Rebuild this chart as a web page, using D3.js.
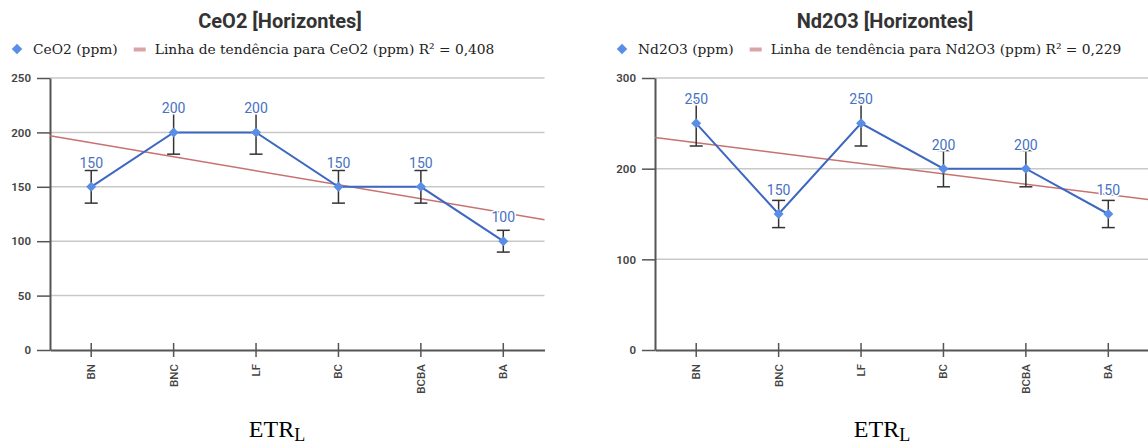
<!DOCTYPE html>
<html>
<head>
<meta charset="utf-8">
<script src="https://cdn.jsdelivr.net/npm/d3@7"></script>
<style>
  body { margin: 0; background: #fff; }
</style>
</head>
<body>
<div id="drawing"></div>
<script>
// categories (horizons)
var categories = ["BN", "BNC", "LF", "BC", "BCBA", "BA"];

// CeO2 panel
var ceo2Values = [150, 200, 200, 150, 150, 100];
var ceo2Errors = [15, 20, 20, 15, 15, 10];
var ceo2Ticks = [0, 50, 100, 150, 200, 250];

// Nd2O3 panel
var nd2o3Values = [250, 150, 250, 200, 200, 150];
var nd2o3Errors = [25, 15, 25, 20, 20, 15];
var nd2o3Ticks = [0, 100, 200, 300];

var width = 1148;
var height = 445;

var svg = d3.select("#drawing").append("svg")
  .attr("width", width)
  .attr("height", height)
  .style("background", "#fff");

// square diamond marker
var diamond = {
  draw: function(ctx, size) {
    var r = Math.sqrt(size) / 2;
    ctx.moveTo(0, -r); ctx.lineTo(r, 0); ctx.lineTo(0, r); ctx.lineTo(-r, 0); ctx.closePath();
  }
};

function panel(cfg) {
  var off = cfg.offset;
  var g = svg.append("g");

  var x = d3.scaleBand().domain(categories).range([off + 50, off + 544.5]).padding(0);
  var cx = function(c) { return x(c) + x.bandwidth() / 2; };
  var y = d3.scaleLinear().domain([0, cfg.yMax]).range([350, 78]);
  var xi = d3.scaleLinear().domain([0.5, categories.length + 0.5]).range(x.range());

  // title
  g.append("text")
    .attr("x", off + 280).attr("y", 28)
    .attr("text-anchor", "middle")
    .style("font-family", "Roboto").style("font-weight", "bold").style("font-size", "20px")
    .style("fill", "#333")
    .text(cfg.title);

  // legend
  var leg = g.append("g");
  leg.append("path")
    .attr("d", d3.symbol().type(diamond).size(110)())
    .attr("transform", `translate(${off + 17}, 49)`)
    .style("fill", "#5a8de6");
  var t1 = leg.append("text")
    .attr("x", off + 33).attr("y", 54)
    .style("font-family", "DejaVu Serif").style("font-size", "13.8px").style("fill", "#222")
    .text(cfg.seriesLabel);
  var e1 = off + 33 + t1.node().getComputedTextLength();
  leg.append("rect")
    .attr("x", e1 + 16).attr("y", 47.5).attr("width", 12).attr("height", 4)
    .style("fill", "#dba2a8");
  leg.append("text")
    .attr("x", e1 + 37).attr("y", 54)
    .style("font-family", "DejaVu Serif").style("font-size", "13.8px").style("fill", "#222")
    .text(cfg.trendLabel);

  // gridlines
  g.append("g").selectAll("line")
    .data(cfg.ticks.filter(function(t) { return t > 0; }))
    .enter().append("line")
    .attr("x1", x.range()[0]).attr("x2", x.range()[1])
    .attr("y1", function(d) { return y(d); }).attr("y2", function(d) { return y(d); })
    .style("stroke", "#c8c8c8").style("stroke-width", 1.5);

  // y axis
  var ya = g.append("g")
    .attr("transform", `translate(${off + 50}, 0)`)
    .call(d3.axisLeft(y).tickValues(cfg.ticks).tickSize(13).tickSizeOuter(0).tickPadding(6));
  ya.select(".domain").style("stroke", "#555").style("stroke-width", 2);
  ya.selectAll(".tick line").style("stroke", "#555").style("stroke-width", 1.5);
  ya.selectAll(".tick text")
    .style("font-family", "Roboto").style("font-size", "11.5px").style("font-weight", 600).style("fill", "#444");

  // x axis
  var xa = g.append("g")
    .attr("transform", "translate(0, 350)")
    .call(d3.axisBottom(x).tickSize(7).tickSizeOuter(0));
  xa.select(".domain").style("stroke", "#555").style("stroke-width", 2);
  xa.selectAll(".tick line").attr("y1", -7).style("stroke", "#555").style("stroke-width", 1.5);
  xa.selectAll(".tick text")
    .attr("transform", "rotate(-90)")
    .attr("x", -14).attr("y", 0).attr("dy", "0.35em")
    .attr("text-anchor", "end")
    .style("font-family", "Roboto").style("font-size", "11.5px").style("font-weight", 500).style("fill", "#444");

  // trend line (least squares on category index)
  var n = cfg.values.length;
  var idx = cfg.values.map(function(d, i) { return i + 1; });
  var mx = d3.mean(idx), my = d3.mean(cfg.values);
  var sxy = d3.sum(idx, function(d, i) { return (d - mx) * (cfg.values[i] - my); });
  var sxx = d3.sum(idx, function(d) { return (d - mx) * (d - mx); });
  var slope = sxy / sxx, icpt = my - slope * mx;
  g.append("line")
    .attr("x1", xi(0.5)).attr("y1", y(icpt + slope * 0.5))
    .attr("x2", xi(n + 0.5)).attr("y2", y(icpt + slope * (n + 0.5)))
    .style("stroke", "#c87171").style("stroke-width", 1.5);

  // error bars
  var eb = g.append("g").selectAll("g")
    .data(categories).enter().append("g")
    .style("stroke", "#333").style("stroke-width", 1.5);
  eb.append("line")
    .attr("x1", cx).attr("x2", cx)
    .attr("y1", function(d, i) { return y(cfg.values[i] - cfg.errors[i]); })
    .attr("y2", function(d, i) { return y(cfg.values[i] + cfg.errors[i]); });
  [-1, 1].forEach(function(s) {
    eb.append("line")
      .attr("x1", function(d) { return cx(d) - 6.5; }).attr("x2", function(d) { return cx(d) + 6.5; })
      .attr("y1", function(d, i) { return y(cfg.values[i] + s * cfg.errors[i]); })
      .attr("y2", function(d, i) { return y(cfg.values[i] + s * cfg.errors[i]); });
  });

  // data line
  var lineGen = d3.line()
    .x(function(d, i) { return cx(categories[i]); })
    .y(function(d) { return y(d); });
  g.append("path")
    .attr("d", lineGen(cfg.values))
    .style("fill", "none").style("stroke", "#3d67c1").style("stroke-width", 2);

  // points
  g.append("g").selectAll("path")
    .data(cfg.values).enter().append("path")
    .attr("d", d3.symbol().type(diamond).size(100)())
    .attr("transform", function(d, i) { return `translate(${cx(categories[i])}, ${y(d)})`; })
    .style("fill", "#5a8de6");

  // value labels
  g.append("g").selectAll("text")
    .data(cfg.values).enter().append("text")
    .attr("x", function(d, i) { return cx(categories[i]); })
    .attr("y", function(d) { return y(d) - 19; })
    .attr("text-anchor", "middle")
    .style("font-family", "Roboto").style("font-size", "14px").style("fill", "#4672c4")
    .style("stroke", "#fff").style("stroke-width", 3).style("paint-order", "stroke")
    .text(function(d) { return d; });

  // caption below
  var cap = g.append("text")
    .attr("x", off + 277).attr("y", 437)
    .attr("text-anchor", "middle")
    .style("font-family", "Liberation Serif").style("font-size", "24px").style("fill", "#000");
  cap.append("tspan").text("ETR");
  cap.append("tspan").attr("dy", 4).style("font-size", "18px").text("L");
}

panel({
  offset: 0,
  title: "CeO2 [Horizontes]",
  seriesLabel: "CeO2 (ppm)",
  trendLabel: "Linha de tendência para CeO2 (ppm) R² = 0,408",
  values: ceo2Values, errors: ceo2Errors, ticks: ceo2Ticks, yMax: 250
});

panel({
  offset: 605,
  title: "Nd2O3 [Horizontes]",
  seriesLabel: "Nd2O3 (ppm)",
  trendLabel: "Linha de tendência para Nd2O3 (ppm) R² = 0,229",
  values: nd2o3Values, errors: nd2o3Errors, ticks: nd2o3Ticks, yMax: 300
});
</script>
</body>
</html>
